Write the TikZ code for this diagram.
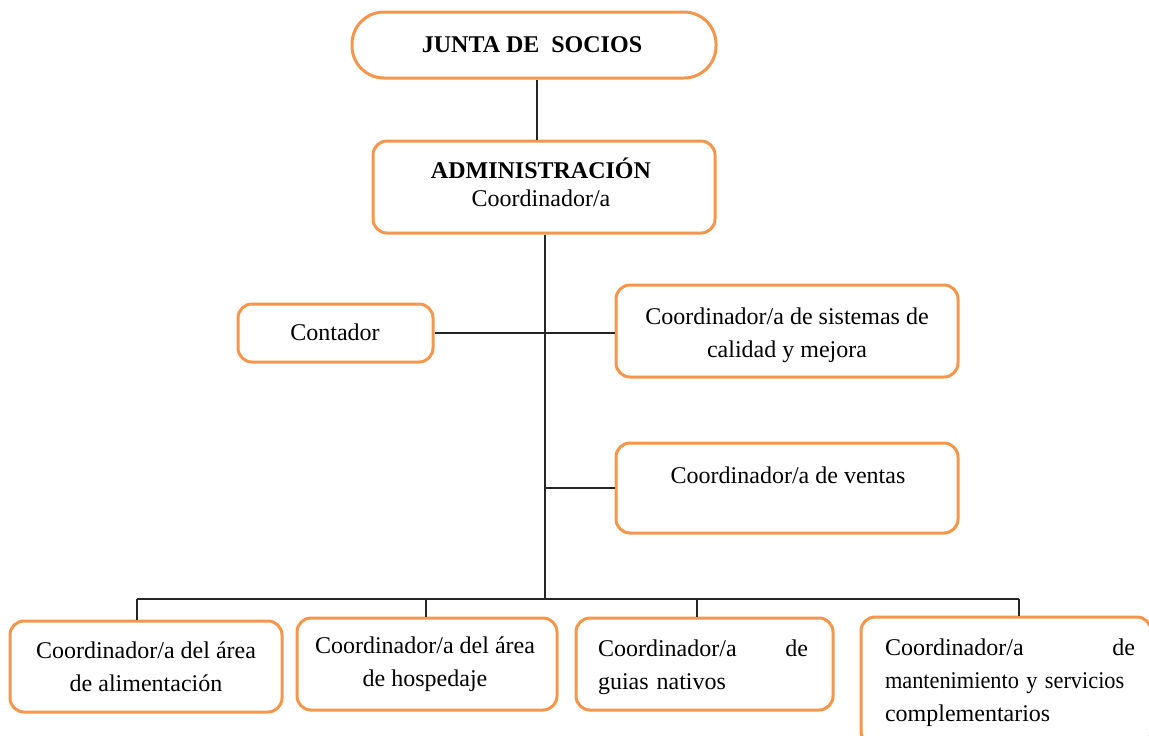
\documentclass[tikz,border=0pt]{standalone}
\usepackage{fontspec}
\setmainfont{Liberation Serif}
\definecolor{boxorange}{RGB}{245,150,75}
\begin{document}
\begin{tikzpicture}[x=0.5pt,y=-0.5pt,
  box/.style={draw=boxorange,line width=1.5pt,rounded corners=7pt,fill=white,inner sep=0pt},
  txt/.style={font=\fontsize{12}{16.5}\selectfont,inner sep=0pt},
  conn/.style={draw=black!85,line width=0.9pt}]
\useasboundingbox (0,0) rectangle (1149,735);
\clip (0,0) rectangle (1149,735);
% boxes
\node[box,rounded corners=16pt,minimum width=182pt,minimum height=33pt] (junta) at (534,45) {};
\node[box,minimum width=171pt,minimum height=46pt] (admin) at (544,187) {};
\node[box,minimum width=97.5pt,minimum height=29pt] (contador) at (335.5,333) {};
\node[box,minimum width=171pt,minimum height=46pt] (sistemas) at (787,331) {};
\node[box,minimum width=171pt,minimum height=45pt] (ventas) at (787,488) {};
\node[box,minimum width=136pt,minimum height=45.5pt] (b1) at (146,666.5) {};
\node[box,minimum width=130pt,minimum height=46pt] (b2) at (427,664) {};
\node[box,minimum width=128.5pt,minimum height=46pt] (b3) at (704.5,664) {};
\node[box,minimum width=145pt,minimum height=64pt] (b4) at (1006,681) {};
% texts
\node[txt,font=\fontsize{12}{16.5}\selectfont\bfseries] (tjunta) at (532,45) {JUNTA DE\ \ SOCIOS};
\node[txt,align=center,font=\fontsize{12}{14}\selectfont] (tadmin) at (541,182) {\textbf{ADMINISTRACIÓN}\\Coordinador/a};
\node[txt] (tcontador) at (335,332) {Contador};
\node[txt,align=center] (tsistemas) at (787,335) {Coordinador/a de sistemas de\\calidad y mejora};
\node[txt] (tventas) at (788,475) {Coordinador/a de ventas};
\node[txt,align=center] (tb1) at (146,667) {Coordinador/a del área\\de alimentación};
\node[txt,align=center] (tb2) at (425,664) {Coordinador/a del área\\de hospedaje};
\node[txt,text width=105pt,align=left] (tb3) at (703,667) {Coordinador/a \hfill de\\guias nativos};
\node[txt,text width=125pt,align=left] (tb4) at (1010,683) {Coordinador/a \hfill de\\\scalebox{0.93}[1]{mantenimiento y servicios}\\complementarios};
% connectors
\coordinate (bus) at (545,599);
\coordinate (d1) at (137,599);
\coordinate (d2) at (426,599);
\coordinate (d3) at (697,599);
\coordinate (d4) at (1019,599);
\draw[conn] ([xshift=1.5pt]junta.south) -- ([xshift=1.5pt]junta.south |- admin.north);
\draw[conn] (admin.south -| bus) -- (bus);
\draw[conn] (contador.east) -- (contador.east -| sistemas.west);
\draw[conn] (ventas.west) -- (ventas.west -| bus);
\draw[conn] (d1) -- (d4);
\draw[conn] (d1) -- (d1 |- b1.north);
\draw[conn] (d2) -- (d2 |- b2.north);
\draw[conn] (d3) -- (d3 |- b3.north);
\draw[conn] (d4) -- (d4 |- b4.north);
\end{tikzpicture}
\end{document}
